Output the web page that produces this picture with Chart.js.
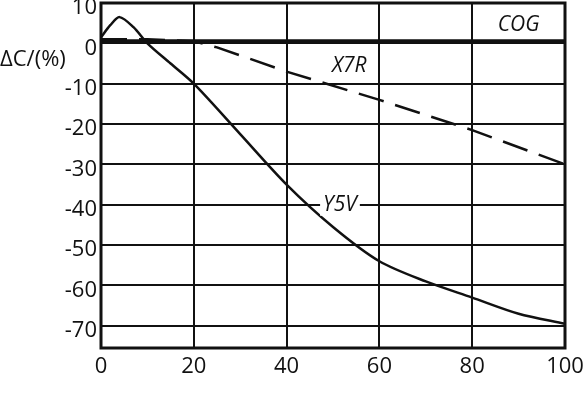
<!DOCTYPE html>
<html>
<head>
<meta charset="utf-8">
<script src="https://cdn.jsdelivr.net/npm/chart.js@4"></script>
<style>
  html, body { margin: 0; padding: 0; background: #fff; }
  #wrap { width: 588px; height: 420px; }
</style>
</head>
<body>
<div id="wrap"><canvas id="c" width="588" height="420"></canvas></div>
<script>
// temperature change (% of range) vs capacitance change
const y5vX = [0, 2, 4, 7, 10, 15, 20, 30, 40, 50, 60, 70, 80, 90, 100];
const y5vY = [1.5, 4.5, 6.5, 4, 0, -5, -10, -22.5, -35, -45.5, -54, -59, -63, -67, -69.5];
const x7rX = [0, 10, 20, 25, 40, 60, 80, 100];
const x7rY = [1, 1, 0.5, -1, -7, -14, -21.5, -30];
const cogX = [0, 100];
const cogY = [0.5, 0.5];
const yTicks = [10, 0, -10, -20, -30, -40, -50, -60, -70];
const xTicks = [0, 20, 40, 60, 80, 100];
const curveNames = ['COG', 'X7R', 'Y5V'];
const nameAt = [[90, 4.5], [53.5, -5.5], [51.5, -40]];

const pts = (xs, ys) => xs.map((x, i) => ({ x, y: ys[i] }));

// series names + axis title drawn on top
const textPlugin = {
    id: 'texts',
    afterDatasetsDraw(chart) {
        const { ctx, scales: { x, y } } = chart;
        ctx.save();
        ctx.font = 'italic 21px "Open Sans"';
        ctx.textAlign = 'center';
        ctx.textBaseline = 'middle';
        curveNames.forEach((n, i) => {
            const px = x.getPixelForValue(nameAt[i][0]);
            const py = y.getPixelForValue(nameAt[i][1]);
            ctx.fillStyle = '#fff';
            const w = ctx.measureText(n).width;
            ctx.fillRect(px - w / 2 - 3, py - 11, w + 6, 22);
            ctx.fillStyle = '#111';
            ctx.fillText(n, px, py);
        });
        ctx.font = '22px "Open Sans"';
        ctx.textAlign = 'left';
        ctx.fillText('ΔC/(%)', 0, 60);
        // frame
        const a = chart.chartArea;
        ctx.lineWidth = 3;
        ctx.strokeStyle = '#111';
        ctx.strokeRect(a.left, a.top, a.right - a.left, a.bottom - a.top);
        ctx.restore();
    }
};

new Chart(document.getElementById('c'), {
    type: 'scatter',
    data: {
        datasets: [
            { data: pts(cogX, cogY), showLine: true, borderColor: '#111', borderWidth: 4, pointRadius: 0 },
            { data: pts(x7rX, x7rY), showLine: true, borderColor: '#111', borderWidth: 2.5, pointRadius: 0, borderDash: [26, 12] },
            { data: pts(y5vX, y5vY), showLine: true, borderColor: '#111', borderWidth: 2.5, pointRadius: 0, tension: 0.3 }
        ]
    },
    options: {
        responsive: false,
        animation: false,
        layout: { padding: { top: 3, right: 23, left: 0, bottom: 0 } },
        plugins: { legend: { display: false }, tooltip: { enabled: false } },
        scales: {
            x: {
                type: 'linear', min: 0, max: 100,
                afterBuildTicks: s => { s.ticks = xTicks.map(v => ({ value: v })); },
                afterFit: s => { s.height = 72; s.paddingLeft = 0; s.paddingRight = 0; },
                grid: { color: '#111', lineWidth: 2, drawTicks: false },
                border: { display: false },
                ticks: { color: '#111', font: { size: 22, family: 'Open Sans' }, padding: 6, maxRotation: 0 }
            },
            y: {
                type: 'linear', min: -75.5, max: 10,
                afterBuildTicks: s => { s.ticks = yTicks.map(v => ({ value: v })); },
                afterFit: s => { s.width = 101; s.paddingTop = 0; s.paddingBottom = 0; },
                grid: { color: '#111', lineWidth: 2, drawTicks: false },
                border: { display: false },
                ticks: { color: '#111', font: { size: 22, family: 'Open Sans' }, padding: 4, labelOffset: 5 }
            }
        }
    },
    plugins: [textPlugin]
});
</script>
</body>
</html>
